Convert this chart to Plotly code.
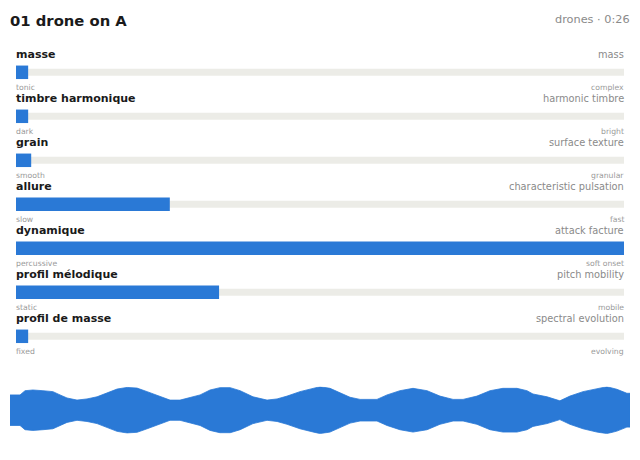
import plotly.graph_objects as go

W, H = 640, 460

# ---- data ----
names = ["masse", "timbre harmonique", "grain", "allure", "dynamique",
         "profil mélodique", "profil de masse"]
descs = ["mass", "harmonic timbre", "surface texture", "characteristic pulsation",
         "attack facture", "pitch mobility", "spectral evolution"]
low_labels = ["tonic", "dark", "smooth", "slow", "percussive", "static", "fixed"]
high_labels = ["complex", "bright", "granular", "fast", "soft onset", "mobile", "evolving"]
values = [0.02, 0.02, 0.025, 0.253, 1.0, 0.334, 0.02]

title = "01 drone on A"
subtitle = "drones · 0:26"

# waveform envelope (seconds, normalised amplitude)
wave_t = [0.0, 0.42, 0.63, 0.96, 1.38, 1.80, 2.10, 2.39, 2.81, 3.23, 3.65, 4.07,
          4.49, 4.91, 5.33, 5.75, 6.16, 6.71, 7.13, 7.55, 7.97, 8.39, 8.81, 9.23,
          9.65, 10.19, 10.78, 11.20, 11.62, 12.16, 12.71, 13.0, 13.42, 13.84,
          14.26, 14.68, 15.39, 15.81, 16.35, 16.90, 17.49, 18.03, 18.58, 19.0,
          19.58, 20.13, 20.67, 21.26, 21.68, 21.93, 22.52, 23.06, 23.48, 24.03,
          24.61, 25.03, 25.45, 25.87, 26.0]
wave_amp = [0.65, 0.65, 0.83, 0.86, 0.83, 0.79, 0.65, 0.52, 0.43, 0.48, 0.57, 0.74,
            0.90, 0.97, 0.94, 0.79, 0.65, 0.43, 0.43, 0.53, 0.65, 0.86, 0.96, 0.96,
            0.83, 0.57, 0.43, 0.48, 0.60, 0.79, 0.93, 1.0, 0.93, 0.74,
            0.55, 0.46, 0.46, 0.65, 0.83, 0.93, 0.83, 0.60, 0.46, 0.46,
            0.60, 0.83, 0.93, 0.93, 0.83, 0.69, 0.57, 0.40, 0.60, 0.79,
            0.93, 1.0, 0.89, 0.72, 0.72]

BLUE = "#2a79d6"
TRACK = "#ecece7"
FONT = "DejaVu Sans"

# ---- layout geometry ----
first_px, pitch = 72.3, 44.0
y_top = -first_px / pitch
y_bot = (H - first_px) / pitch
rows = list(range(len(names)))

fig = go.Figure()

fig.add_trace(go.Bar(
    x=[1.0] * len(rows), y=rows, base=0, orientation="h",
    width=7 / pitch, marker=dict(color=TRACK, line=dict(width=0)),
    hoverinfo="skip", xaxis="x", yaxis="y"))
fig.add_trace(go.Bar(
    x=values, y=rows, base=0, orientation="h",
    width=13.5 / pitch, marker=dict(color=BLUE, line=dict(width=0)),
    hoverinfo="skip", xaxis="x", yaxis="y"))

# waveform
fig.add_trace(go.Scatter(
    x=wave_t + wave_t[::-1],
    y=wave_amp + [-a for a in wave_amp[::-1]],
    fill="toself", fillcolor=BLUE, mode="lines",
    line=dict(width=0.8, color=BLUE), hoverinfo="skip",
    xaxis="x2", yaxis="y2"))

ann = []
for i in rows:
    ann.append(dict(x=0, y=i - 18 / pitch, xref="x", yref="y", text=names[i],
                    xanchor="left", yanchor="middle", showarrow=False, xshift=-2,
                    font=dict(family=FONT, size=11, color="#1a1a1a", weight="bold")))
    ann.append(dict(x=1, y=i - 18 / pitch, xref="x", yref="y", text=descs[i],
                    xanchor="right", yanchor="middle", showarrow=False, xshift=2,
                    font=dict(family=FONT, size=9.8, color="#8a8a8a")))
    ann.append(dict(x=0, y=i + 14.7 / pitch, xref="x", yref="y", text=low_labels[i],
                    xanchor="left", yanchor="middle", showarrow=False, xshift=-2,
                    font=dict(family=FONT, size=7.7, color="#9a9a9a")))
    ann.append(dict(x=1, y=i + 14.7 / pitch, xref="x", yref="y", text=high_labels[i],
                    xanchor="right", yanchor="middle", showarrow=False, xshift=2,
                    font=dict(family=FONT, size=7.7, color="#9a9a9a")))

ann.append(dict(x=10 / W, y=1 - 20.5 / H, xref="paper", yref="paper", text=title,
                xanchor="left", yanchor="middle", showarrow=False, xshift=-2,
                font=dict(family=FONT, size=14.8, color="#1a1a1a", weight="bold")))
ann.append(dict(x=630 / W, y=1 - 20 / H, xref="paper", yref="paper", text=subtitle,
                xanchor="right", yanchor="middle", showarrow=False, xshift=2,
                font=dict(family=FONT, size=11.3, color="#8a8a8a")))

fig.update_layout(
    width=W, height=H, margin=dict(l=0, r=0, t=0, b=0),
    paper_bgcolor="white", plot_bgcolor="white",
    barmode="overlay", showlegend=False,
    xaxis=dict(domain=[16 / W, 624 / W], range=[0, 1], visible=False, fixedrange=True),
    yaxis=dict(domain=[0, 1], range=[y_bot, y_top], visible=False, fixedrange=True),
    xaxis2=dict(domain=[10 / W, 630 / W], range=[0, 26], visible=False,
                anchor="y2", fixedrange=True),
    yaxis2=dict(domain=[(H - 433.7) / H, (H - 386.7) / H], range=[-1, 1],
                visible=False, anchor="x2", fixedrange=True),
    annotations=ann,
)

fig.write_html("out.html", config={"displayModeBar": False})
